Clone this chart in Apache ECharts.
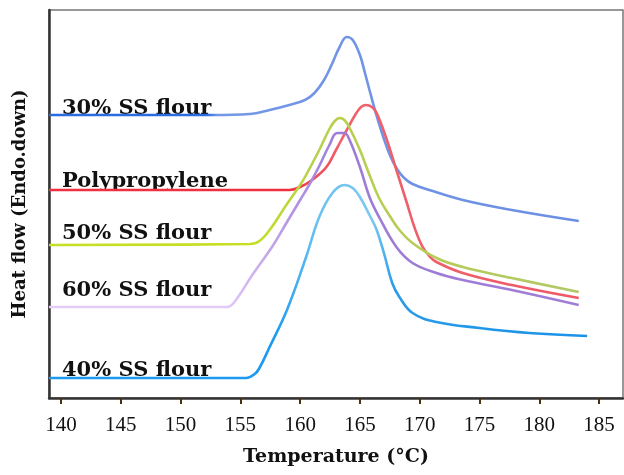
<!DOCTYPE html>
<html>
<head>
<meta charset="utf-8">
<script src="https://cdn.jsdelivr.net/npm/echarts@6/dist/echarts.min.js"></script>
<style>html,body{margin:0;padding:0;background:#fff}#c{width:624px;height:475px}</style>
</head>
<body>
<div id="c"></div>
<script>
// Tick labels (°C)
const xTicks = [140, 145, 150, 155, 160, 165, 170, 175, 180, 185];
// Series names
const seriesNames = ['30% SS flour', 'Polypropylene', '50% SS flour', '60% SS flour', '40% SS flour'];
// Temperature (°C) and heat flow (arbitrary units)
const t30 = [139.0,152.7,155.8,157.45,159.1,160.4,161.2,162.0,162.7,163.3,163.9,164.4,165.0,165.4,165.8,166.4,166.9,167.5,168.1,168.7,169.4,170.8,173.6,177.7,183.3];
const h30 = [28.3,28.3,28.4,28.8,29.3,29.8,30.5,31.8,33.5,35.1,36.1,35.8,34.3,32.6,30.8,28.2,26.3,24.3,22.9,22.0,21.4,20.8,19.8,18.8,17.7];
const tPP = [139.0,159.1,160.0,161.0,162.2,163.0,163.9,164.7,165.1,165.5,166.0,166.4,167.2,168.05,168.9,169.55,170.2,170.8,171.4,173.6,177.7,183.3];
const hPP = [20.8,20.8,21.1,21.8,23.1,24.8,26.8,28.5,29.1,29.3,29.1,28.5,26.0,22.8,19.6,17.1,15.2,14.2,13.6,12.5,11.3,10.0];
const t50 = [139.0,155.8,156.6,157.45,158.9,160.0,160.5,161.6,162.45,162.9,163.3,163.7,164.1,165.0,165.8,166.6,167.5,168.3,169.4,171.4,173.6,177.7,183.3];
const h50 = [15.3,15.4,15.7,16.8,19.4,21.3,22.3,24.8,26.9,27.7,28.0,27.8,27.1,24.8,22.3,20.0,18.2,16.8,15.5,14.0,13.1,12.0,10.6];
const t60 = [139.0,153.9,154.5,156.0,157.7,158.9,160.0,160.8,161.6,162.45,163.1,163.7,164.1,165.0,165.8,166.6,168.05,169.4,171.4,173.6,177.7,183.3];
const h60 = [9.1,9.1,9.6,12.3,15.2,17.6,19.8,21.4,23.2,25.3,26.5,26.5,25.9,23.1,20.1,18.1,15.1,13.5,12.5,11.8,10.8,9.3];
const t40 = [139.0,155.5,156.2,156.6,157.45,158.9,160.5,161.6,162.7,163.7,164.4,165.0,165.8,166.4,167.05,167.7,168.3,169.4,171.4,175.0,179.15,184.0];
const h40 = [2.0,2.0,2.4,3.0,5.1,8.8,14.1,18.1,20.5,21.3,21.0,20.1,18.3,16.8,14.3,11.5,10.1,8.5,7.6,7.0,6.5,6.2];

function pairs(t, h) { return t.map((v, i) => [v, h[i]]); }
function grad(stops) {
  return new echarts.graphic.LinearGradient(0, 0, 1, 0, stops.map(s => ({offset: s[0], color: s[1]})));
}

const chart = echarts.init(document.getElementById('c'), null, {renderer: 'canvas'});
const serif = 'DejaVu Serif';
const labelStyle = {fontFamily: serif, fontWeight: 'bold', fontSize: 21, fill: '#111'};

const lineDefs = [
  {name: seriesNames[0], data: pairs(t30, h30), color: grad([[0,'#2a6be0'],[0.3,'#2a6be0'],[0.32,'#7497e6'],[1,'#6c8fe4']])},
  {name: seriesNames[1], data: pairs(tPP, hPP), color: grad([[0,'#f0303e'],[0.45,'#f0303e'],[0.55,'#f0616b'],[1,'#ee5a66']])},
  {name: seriesNames[2], data: pairs(t50, h50), color: grad([[0,'#c6df24'],[0.38,'#c6df24'],[0.5,'#b8d04c'],[1,'#b2c868']])},
  {name: seriesNames[3], data: pairs(t60, h60), color: grad([[0,'#e4ccf8'],[0.33,'#e4ccf8'],[0.45,'#b698e6'],[0.55,'#9d7cd6'],[1,'#a07ed6']])},
  {name: seriesNames[4], data: pairs(t40, h40), color: grad([[0,'#1b9af0'],[0.42,'#1b9af0'],[0.5,'#6cc2f0'],[0.6,'#7cc9f0'],[0.64,'#2a9ce8'],[1,'#1a92e8']])}
];

const labelPos = [
  {text: seriesNames[0], y: 110},
  {text: seriesNames[1], y: 183},
  {text: seriesNames[2], y: 235},
  {text: seriesNames[3], y: 292},
  {text: seriesNames[4], y: 372}
];

chart.setOption({
  animation: false,
  backgroundColor: '#fff',
  grid: {left: 49, right: 1, top: 10, bottom: 77, show: true, borderColor: '#777', borderWidth: 1.5},
  xAxis: {
    type: 'value', min: 139, max: 187,
    axisLine: {show: true, lineStyle: {color: '#333', width: 2.5}},
    axisTick: {show: true, inside: false, length: 6, customValues: xTicks, lineStyle: {color: '#4a3210', width: 2}},
    axisLabel: {show: true, customValues: xTicks, margin: 17, fontFamily: 'Liberation Serif', fontSize: 21, color: '#111'},
    splitLine: {show: false}
  },
  yAxis: {
    type: 'value', min: 0, max: 38.8,
    axisLine: {show: true, lineStyle: {color: '#333', width: 2.5}},
    axisTick: {show: false}, axisLabel: {show: false}, splitLine: {show: false}
  },
  series: lineDefs.map(d => ({
    name: d.name, type: 'line', data: d.data, smooth: 0.4, showSymbol: false, symbol: 'none',
    lineStyle: {width: 2.6, color: d.color}
  })),
  graphic: [
    ...labelPos.map(l => ({type: 'text', left: 62, top: l.y - 12, style: Object.assign({text: l.text}, labelStyle)})),
    {type: 'text', x: 336, y: 457, style: {text: 'Temperature (°C)', fontFamily: serif, fontWeight: 'bold', fontSize: 19, fill: '#111', align: 'center', verticalAlign: 'middle'}},
    {type: 'text', x: 20, y: 204, rotation: Math.PI / 2, style: {text: 'Heat flow (Endo.down)', fontFamily: serif, fontWeight: 'bold', fontSize: 18, fill: '#111', align: 'center', verticalAlign: 'middle'}}
  ]
});
</script>
</body>
</html>
